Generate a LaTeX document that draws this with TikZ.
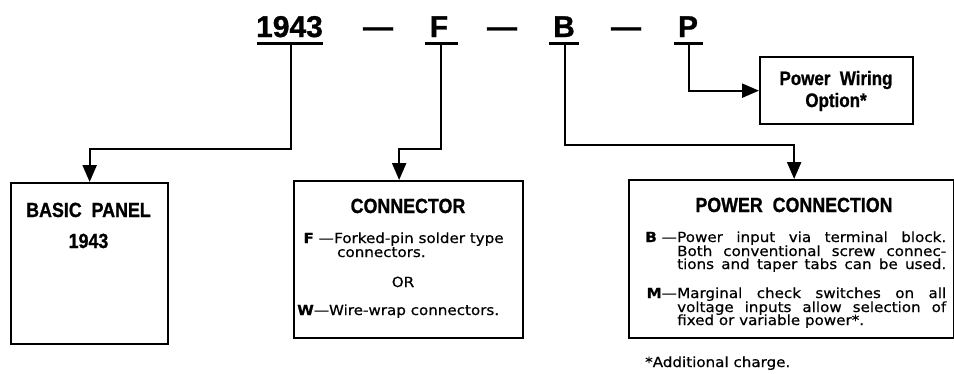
\documentclass[tikz,border=0pt]{standalone}
\usepackage{fontspec}
\setmainfont{Liberation Sans}
\newfontfamily\topfont[FakeBold=1]{Liberation Sans}
\newfontfamily\headfont[FakeStretch=0.87,FakeBold=1]{Liberation Sans}
\newfontfamily\bodyfont[FakeStretch=1.08,FakeBold=0.6]{DejaVu Sans}
\usetikzlibrary{arrows.meta}
\tikzset{
  toplabel/.style={font=\topfont\bfseries\fontsize{30}{32}\selectfont, inner sep=0pt, anchor=base},
  bar/.style={line width=3pt},
  frame/.style={draw, line width=2.3pt, inner sep=0pt, anchor=north west},
  head/.style={font=\headfont\bfseries\fontsize{20.5}{22}\selectfont, inner sep=0pt, anchor=base},
  smallhead/.style={font=\headfont\bfseries\fontsize{19.5}{21}\selectfont, inner sep=0pt, anchor=base},
  body/.style={font=\bodyfont\fontsize{14}{15}\selectfont, inner sep=0pt, anchor=base west},
  lbl/.style={font=\bodyfont\fontsize{14}{15}\selectfont, inner sep=0pt, anchor=base east},
  conn/.style={line width=2.3pt, -{Triangle[length=17pt,width=14pt]}},
}
\begin{document}
\begin{tikzpicture}[x=1pt,y=-1pt]
\useasboundingbox (0,0) rectangle (954,373);

% top code
\node[toplabel] (t1943) at (289.5,37) {1943};
\node[toplabel] (dash1) at (378,37) {—};
\node[toplabel] (tF) at (439,37) {F};
\node[toplabel] (dash2) at (502,37) {—};
\node[toplabel] (tB) at (564,37) {B};
\node[toplabel] (dash3) at (626,37) {—};
\node[toplabel] (tP) at (688,37) {P};

\draw[bar] (257,43.5) -- (323,43.5);
\draw[bar] (425,43.5) -- (458,43.5);
\draw[bar] (549,43.5) -- (579,43.5);
\draw[bar] (674,43.5) -- (703,43.5);

\coordinate (u1943) at (291,43);
\coordinate (uF) at (441,43);
\coordinate (uB) at (565,43);
\coordinate (uP) at (689,43);

% boxes
\node[frame, minimum width=157pt, minimum height=161pt] (basic) at (10,182) {};
\node[frame, minimum width=229pt, minimum height=157pt] (conn) at (293,180) {};
\node[frame, minimum width=325pt, minimum height=158pt] (power) at (628,179) {};
\node[frame, minimum width=153pt, minimum height=67pt] (wiring) at (759,56) {};

% connectors
\draw[conn] (u1943) -- (291,149) -| (basic.north);
\draw[conn] (uF) -- (441,149) -| ([xshift=-9.5pt]conn.north);
\draw[conn] (uB) -- (565,145) -| ([xshift=2.5pt]power.north);
\draw[conn] (uP) |- (wiring.west);

% power wiring
\node[smallhead] (pw1) at (836,85) {Power\ \ Wiring};
\node[smallhead] (pw2) at (836,107) {Option*};

% basic panel
\node[head] (bp1) at (88.5,217) {BASIC\ \ PANEL};
\node[head] (bp2) at (88.5,248) {1943};

% connector
\node[head] (cT) at (408,213) {CONNECTOR};
\node[lbl] (cF) at (334,243) {{\bfseries F} —};
\node[body] (cF1) at (334,243) {Forked-pin solder type};
\node[body] (cF2) at (337,257) {connectors.};
\node[body, anchor=base] (cOR) at (403,287) {OR};
\node[body] (cW) at (297,315) {{\bfseries W}—Wire-wrap connectors.};

% power connection
\node[head] (pcT) at (794,212) {POWER\ \ CONNECTION};
\node[lbl] (pcB) at (677,242) {{\bfseries B} —};
\node[body] (pcB1) at (677,242) {\makebox[269pt][s]{Power input via terminal block.}};
\node[body] (pcB2) at (677,256) {\makebox[269pt][s]{Both conventional screw connec-}};
\node[body] (pcB3) at (677,269) {\makebox[269pt][s]{tions and taper tabs can be used.}};
\node[lbl] (pcM) at (677,298) {{\bfseries M}—};
\node[body] (pcM1) at (677,298) {\makebox[269pt][s]{Marginal check switches on all}};
\node[body] (pcM2) at (677,312) {\makebox[269pt][s]{voltage inputs allow selection of}};
\node[body] (pcM3) at (677,325) {fixed or variable power*.};

\node[body] (fn) at (645,367) {*Additional charge.};
\end{tikzpicture}
\end{document}
